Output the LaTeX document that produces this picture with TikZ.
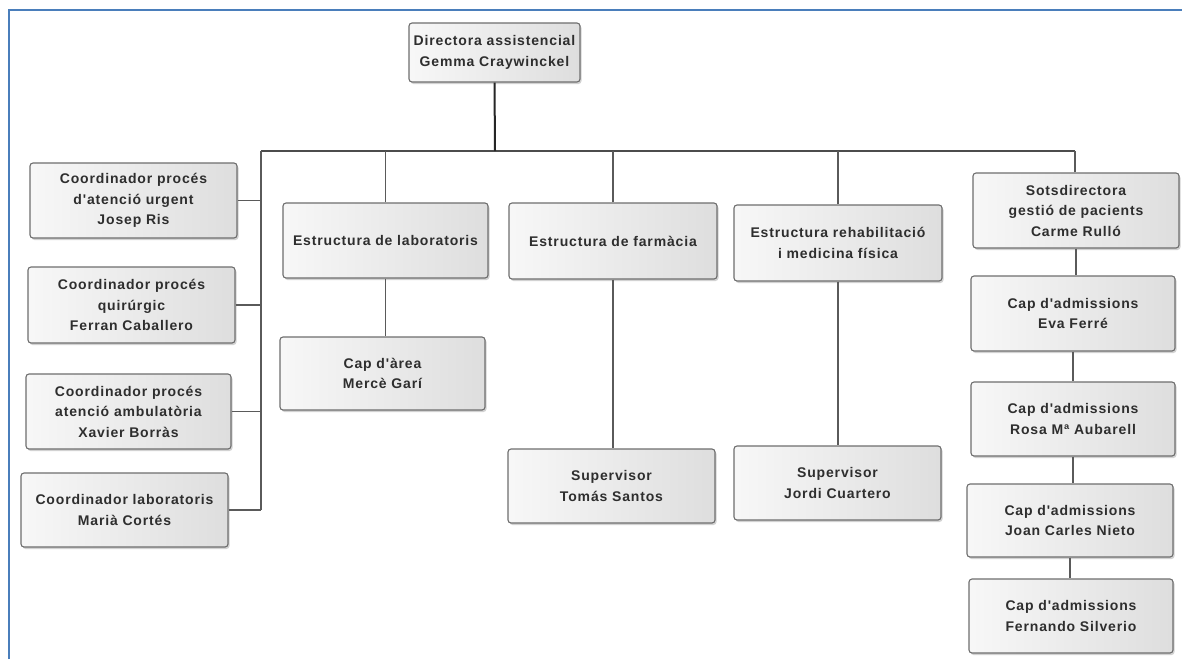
\documentclass[tikz,border=0pt]{standalone}
\usepackage{fontspec}
\setmainfont{Liberation Sans}
\newfontfamily\boxfont[LetterSpace=6]{Liberation Sans}
\usetikzlibrary{shadows}
\definecolor{frameblue}{HTML}{4A7EBB}
\definecolor{boxedge}{HTML}{6E6E6E}
\definecolor{boxtext}{HTML}{2E2E2E}
\definecolor{linkgray}{HTML}{5A5A5A}
\tikzset{
  orgbox/.style={draw=boxedge, line width=1.1pt, rounded corners=3pt,
    left color=gray!6, right color=gray!26,
    drop shadow={shadow xshift=1.5pt, shadow yshift=-2pt, opacity=0.35, fill=gray},
    align=center, text=boxtext, inner sep=2pt,
    font=\boxfont\bfseries\fontsize{14}{20.5}\selectfont},
  link/.style={draw=linkgray, line width=1.1pt},
  trunk/.style={draw=black!85, line width=2pt},
  bus/.style={draw=black!70, line width=1.6pt}
}
\begin{document}
\begin{tikzpicture}[x=1pt,y=-1pt]
\useasboundingbox (0,0) rectangle (1182,659);
\fill[white] (0,0) rectangle (1182,659);
% frame lines along the top and left edges
\draw[frameblue, line width=1.8pt] (9,659) -- (9,10) -- (1182,10);

% top of the chart
\node[orgbox, minimum width=171pt, minimum height=59pt] (dir) at (494.5,52.5)
  {Directora assistencial\\Gemma Craywinckel};

% coordinators on the left
\node[orgbox, minimum width=207pt, minimum height=75pt] (c1) at (133.5,200.5)
  {Coordinador procés\\d'atenció urgent\\Josep Ris};
\node[orgbox, minimum width=207pt, minimum height=76pt] (c2) at (131.5,305)
  {Coordinador procés\\quirúrgic\\Ferran Caballero};
\node[orgbox, minimum width=205pt, minimum height=75pt] (c3) at (128.5,411.5)
  {Coordinador procés\\atenció ambulatòria\\Xavier Borràs};
\node[orgbox, minimum width=207pt, minimum height=74pt] (c4) at (124.5,510)
  {Coordinador laboratoris\\Marià Cortés};

% structures
\node[orgbox, minimum width=205pt, minimum height=75pt] (lab) at (385.5,240.5)
  {Estructura de laboratoris};
\node[orgbox, minimum width=205pt, minimum height=73pt] (area) at (382.5,373.5)
  {Cap d'àrea\\Mercè Garí};
\node[orgbox, minimum width=208pt, minimum height=76pt] (farm) at (613,241)
  {Estructura de farmàcia};
\node[orgbox, minimum width=207pt, minimum height=74pt] (tomas) at (611.5,486)
  {Supervisor\\Tomás Santos};
\node[orgbox, minimum width=208pt, minimum height=76pt] (rehab) at (838,243)
  {Estructura rehabilitació\\i medicina física};
\node[orgbox, minimum width=207pt, minimum height=74pt] (jordi) at (837.5,483)
  {Supervisor\\Jordi Cuartero};

% patient management column
\node[orgbox, minimum width=206pt, minimum height=75pt] (sots) at (1076,210.5)
  {Sotsdirectora\\gestió de pacients\\Carme Rulló};
\node[orgbox, minimum width=204pt, minimum height=75pt] (eva) at (1073,313.5)
  {Cap d'admissions\\Eva Ferré};
\node[orgbox, minimum width=204pt, minimum height=74pt] (rosa) at (1073,419)
  {Cap d'admissions\\Rosa Mª Aubarell};
\node[orgbox, minimum width=206pt, minimum height=73pt] (joan) at (1070,520.5)
  {Cap d'admissions\\Joan Carles Nieto};
\node[orgbox, minimum width=204pt, minimum height=74pt] (fern) at (1071,616)
  {Cap d'admissions\\Fernando Silverio};

% connectors
\coordinate (busL) at (261,151);
\coordinate (busR) at (1075,151);
\coordinate (busM) at (495,151);
\draw[bus] (busL) -- (busR);
\draw[trunk] (dir.south) -- (busM);
\draw[link] (busL) -- (busL |- c4.east);
\foreach \n in {c1,c2,c3,c4} \draw[link] (\n.east) -- (\n.east -| busL);
\foreach \n in {lab,farm,rehab} \draw[link] (\n.north) -- (\n.north |- busL);
\draw[link] (sots.north -| busR) -- (busR);
\draw[link] (lab.south) -- (lab.south |- area.north);
\draw[link] (farm.south) -- (farm.south |- tomas.north);
\draw[link] (rehab.south) -- (rehab.south |- jordi.north);
\draw[link] (sots.south) -- (sots.south |- eva.north);
\draw[link] (eva.south) -- (eva.south |- rosa.north);
\draw[link] (rosa.south) -- (rosa.south |- joan.north);
\draw[link] (joan.south) -- (joan.south |- fern.north);
\end{tikzpicture}
\end{document}
